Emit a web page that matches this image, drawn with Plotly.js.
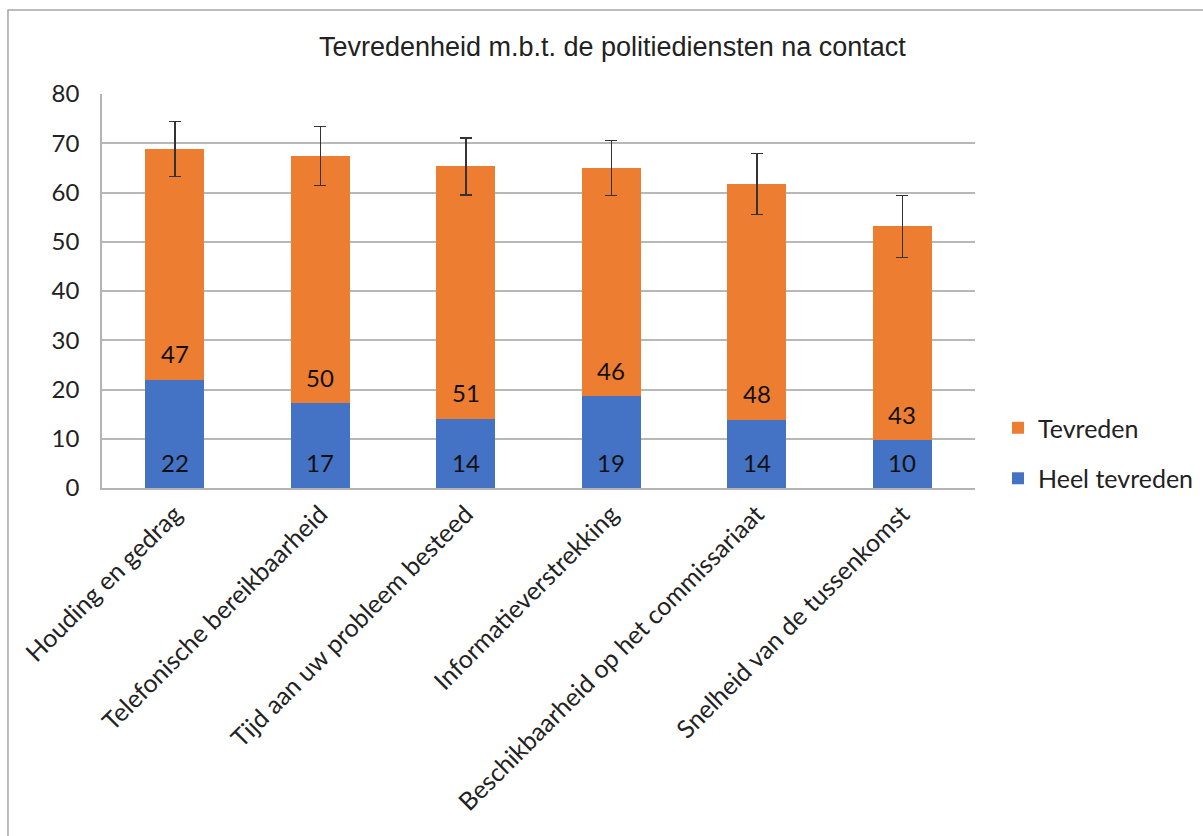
<!DOCTYPE html>
<html>
<head>
<meta charset="utf-8">
<script src="https://cdn.plot.ly/plotly-3.0.1.min.js"></script>
<style>
  html, body { margin: 0; padding: 0; background: #ffffff; }
  #chart { width: 1203px; height: 836px; }
</style>
</head>
<body>
<div id="chart"></div>
<script>
const categories = [
  "Houding en gedrag",
  "Telefonische bereikbaarheid",
  "Tijd aan uw probleem besteed",
  "Informatieverstrekking",
  "Beschikbaarheid op het commissariaat",
  "Snelheid van de tussenkomst"
];
const heelTevreden = [22.0, 17.2, 14.1, 18.6, 13.9, 9.7];
const tevreden = [46.8, 50.2, 51.2, 46.4, 47.8, 43.4];
const foutmarge = [5.6, 6.0, 5.8, 5.6, 6.2, 6.3];
const yTicks = [0, 10, 20, 30, 40, 50, 60, 70, 80];

const baseFont = "Lato, 'Open Sans', sans-serif";

const traces = [
  {
    type: "bar",
    name: "Heel tevreden",
    legendgroup: "a",
    legendrank: 2,
    x: categories,
    y: heelTevreden,
    marker: { color: "#4472C4" },
    hoverinfo: "x+y"
  },
  {
    type: "bar",
    name: "Tevreden",
    legendgroup: "b",
    legendrank: 1,
    x: categories,
    y: tevreden,
    marker: { color: "#ED7D31" },
    error_y: {
      type: "data",
      array: foutmarge,
      visible: true,
      color: "#333333",
      thickness: 1.5,
      width: 6
    },
    hoverinfo: "x+y"
  }
];

// Data labels placed at the base of each segment ("inside base")
const labelFont = { family: baseFont, size: 24, color: "#111111" };
const annotations = [];
categories.forEach((c, i) => {
  annotations.push({
    x: c, y: 0, xref: "x", yref: "y",
    text: heelTevreden[i].toFixed(0),
    showarrow: false, yanchor: "middle", yshift: 26,
    font: labelFont
  });
  annotations.push({
    x: c, y: heelTevreden[i], xref: "x", yref: "y",
    text: tevreden[i].toFixed(0),
    showarrow: false, yanchor: "middle", yshift: 26,
    font: labelFont
  });
});

const layout = {
  width: 1203,
  height: 836,
  barmode: "stack",
  bargap: 0.595,
  paper_bgcolor: "#ffffff",
  plot_bgcolor: "#ffffff",
  margin: { l: 102, r: 228, t: 94, b: 348 },
  title: {
    text: "Tevredenheid m.b.t. de politiediensten na contact",
    font: { family: "'Liberation Sans', Arial, sans-serif", size: 27, color: "#222222" },
    x: 0.509,
    xref: "container",
    xanchor: "center",
    y: 0.944,
    yref: "container",
    yanchor: "middle"
  },
  xaxis: {
    type: "category",
    tickangle: -45,
    tickfont: { family: baseFont, size: 25, color: "#222222" },
    showline: true,
    linecolor: "#b3b3b3",
    linewidth: 1.5,
    ticks: "",
    showgrid: false,
    automargin: false
  },
  yaxis: {
    range: [0, 80],
    tickvals: yTicks,
    ticktext: yTicks.map(String),
    tickfont: { family: baseFont, size: 24, color: "#222222" },
    ticklabelstandoff: 16,
    showgrid: true,
    gridcolor: "#b8b8b8",
    gridwidth: 1.5,
    showline: true,
    linecolor: "#b3b3b3",
    linewidth: 1.5,
    zeroline: false,
    ticks: "",
    ticklen: 0,
    automargin: false
  },
  legend: {
    xref: "container",
    yref: "container",
    x: 0.8296,
    xanchor: "left",
    y: 0.4581,
    yanchor: "middle",
    traceorder: "grouped",
    tracegroupgap: 15,
    font: { family: baseFont, size: 25, color: "#222222" },
    bgcolor: "rgba(0,0,0,0)"
  },
  annotations: annotations,
  shapes: [
    {
      type: "rect",
      xref: "paper",
      yref: "paper",
      x0: -0.1077,
      x1: 1.5,
      y0: -1.5,
      y1: 1.213,
      line: { color: "#a6a6a6", width: 1.5 },
      fillcolor: "rgba(0,0,0,0)",
      layer: "below"
    }
  ],
  showlegend: true
};

Plotly.newPlot("chart", traces, layout, { displayModeBar: false, responsive: false });
</script>
</body>
</html>
